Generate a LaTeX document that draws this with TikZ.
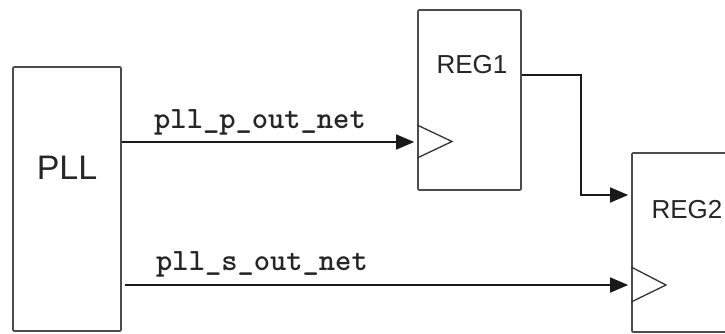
\documentclass[tikz,border=0pt]{standalone}
\usepackage{fontspec}
\setmainfont{Liberation Sans}
\usetikzlibrary{arrows.meta}
\begin{document}
\begin{tikzpicture}[x=1pt,y=-1pt,
  blockbox/.style={draw=black!70,line width=1.7pt,rounded corners=1pt,inner sep=0pt},
  clk/.style={draw=black!80,line width=1.3pt,line join=miter},
  wire/.style={draw=black!90,line width=1.6pt,shorten >=3pt,-{Triangle[length=18pt,width=15pt]}},
  blocklabel/.style={font=\fontsize{26}{30}\selectfont,text=black!85,inner sep=0pt},
  netlabel/.style={font=\ttfamily\bfseries\fontsize{31}{34}\selectfont,text=black!85,inner sep=0pt}]
\useasboundingbox (0,0) rectangle (725,333);
\fill[white] (0,0) rectangle (725,333);
% blocks
\node[blockbox,minimum width=108pt,minimum height=264pt] (pll) at (67,199) {};
\node[blocklabel,font=\fontsize{34}{38}\selectfont] (plltext) at (67,168) {PLL};
\node[blockbox,minimum width=103pt,minimum height=180pt] (reg1) at (469.5,100) {};
\node[blocklabel] (reg1text) at (472,65) {REG1};
\node[blockbox,minimum width=110pt,minimum height=179pt] (reg2) at (687,242.5) {};
\node[blocklabel] (reg2text) at (687,210) {REG2};
% clock triangles
\draw[clk] (reg1.west |- 0,125) -- (452,141.5) -- (reg1.west |- 0,158);
\draw[clk] (reg2.west |- 0,267) -- (666,285) -- (reg2.west |- 0,302);
% connectors
\coordinate (c1a) at (pll.east |- 0,142);
\coordinate (c1b) at (reg1.west |- 0,142);
\draw[wire] (c1a) -- (c1b);
\coordinate (c2a) at ([xshift=3pt]pll.east |- 0,285);
\coordinate (c2b) at (reg2.west |- 0,285);
\draw[wire] (c2a) -- (c2b);
\coordinate (c3a) at (reg1.east |- 0,75);
\coordinate (c3b) at (reg2.west |- 0,195);
\draw[wire] (c3a) -- (581,75) -- (581,195) -- (c3b);
% net labels
\node[netlabel] (l1) at (260,122) {pll\_p\_out\_net};
\node[netlabel] (l2) at (262,264) {pll\_s\_out\_net};
\end{tikzpicture}
\end{document}
